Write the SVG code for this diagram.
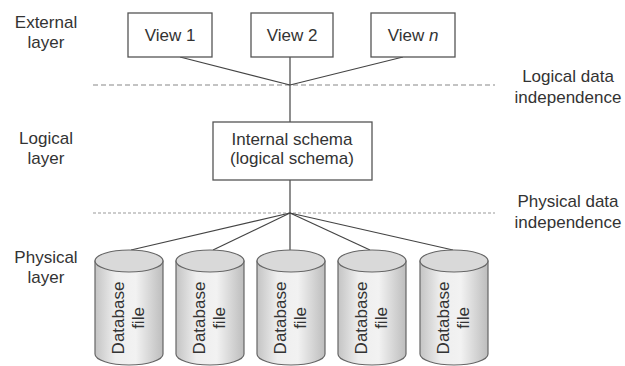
<svg xmlns="http://www.w3.org/2000/svg" width="625" height="366" viewBox="0 0 625 366">
<defs>
<linearGradient id="body" x1="0" y1="0" x2="1" y2="0">
<stop offset="0" stop-color="#c4c4c4"/>
<stop offset="0.3" stop-color="#eeeeee"/>
<stop offset="0.6" stop-color="#f2f2f2"/>
<stop offset="1" stop-color="#bdbdbd"/>
</linearGradient>
</defs>
<style>
text{font-family:"Liberation Sans",Arial,sans-serif;font-size:17px;fill:#333;text-anchor:middle}
.box{fill:#fff;stroke:#555;stroke-width:1.3}
.conn{stroke:#444;stroke-width:1.2;fill:none}
.dash{stroke:#888;stroke-width:1.2;stroke-dasharray:5 3;fill:none}
.dash2{stroke:#999;stroke-width:1.2;stroke-dasharray:3 2;fill:none}
.cyl{fill:url(#body);stroke:#666;stroke-width:1.2}
.cyltop{fill:#d9d9d9;stroke:#666;stroke-width:1.2}
</style>
<rect width="625" height="366" fill="#fff"/>
<g id="labels">
<text x="46" y="28">External</text>
<text x="46" y="48">layer</text>
<text x="46" y="144">Logical</text>
<text x="46" y="164">layer</text>
<text x="46" y="263">Physical</text>
<text x="46" y="283">layer</text>
<text x="568" y="82">Logical data</text>
<text x="568" y="103">independence</text>
<text x="568" y="207">Physical data</text>
<text x="568" y="228">independence</text>
</g>
<g id="boundaries">
<line class="dash" x1="93" y1="85" x2="495" y2="85"/>
<line class="dash2" x1="93" y1="213" x2="495" y2="213"/>
</g>
<g id="connectors">
<line class="conn" x1="180" y1="57" x2="290" y2="85"/>
<line class="conn" x1="403" y1="57" x2="290" y2="85"/>
<line class="conn" x1="290" y1="57" x2="290" y2="122"/>
<line class="conn" x1="290" y1="180" x2="290" y2="250"/>
<line class="conn" x1="290" y1="213" x2="131" y2="250"/>
<line class="conn" x1="290" y1="213" x2="213" y2="250"/>
<line class="conn" x1="290" y1="213" x2="370" y2="250"/>
<line class="conn" x1="290" y1="213" x2="453" y2="250"/>
</g>
<g id="view1"><rect class="box" x="128" y="13" width="84" height="44"/><text x="170" y="41">View 1</text></g>
<g id="view2"><rect class="box" x="251" y="13" width="82" height="44"/><text x="292" y="41">View 2</text></g>
<g id="viewn"><rect class="box" x="371" y="13" width="84" height="44"/><text x="413" y="41">View <tspan font-style="italic">n</tspan></text></g>
<g id="internal"><rect class="box" x="213" y="122" width="159" height="58"/><text x="292" y="145">Internal schema</text><text x="292" y="164">(logical schema)</text></g>
<g id="db1"><path class="cyl" d="M95,261 V354 A34,11 0 0 0 163,354 V261 Z"/><ellipse class="cyltop" cx="129" cy="261" rx="34" ry="11"/><text transform="translate(118,318) rotate(-90)" dy="0.35em">Database</text><text transform="translate(138,318) rotate(-90)" dy="0.35em">file</text></g>
<g id="db2"><path class="cyl" d="M176,261 V354 A34,11 0 0 0 244,354 V261 Z"/><ellipse class="cyltop" cx="210" cy="261" rx="34" ry="11"/><text transform="translate(199,318) rotate(-90)" dy="0.35em">Database</text><text transform="translate(219,318) rotate(-90)" dy="0.35em">file</text></g>
<g id="db3"><path class="cyl" d="M257,261 V354 A34,11 0 0 0 325,354 V261 Z"/><ellipse class="cyltop" cx="291" cy="261" rx="34" ry="11"/><text transform="translate(280,318) rotate(-90)" dy="0.35em">Database</text><text transform="translate(300,318) rotate(-90)" dy="0.35em">file</text></g>
<g id="db4"><path class="cyl" d="M338,261 V354 A34,11 0 0 0 406,354 V261 Z"/><ellipse class="cyltop" cx="372" cy="261" rx="34" ry="11"/><text transform="translate(361,318) rotate(-90)" dy="0.35em">Database</text><text transform="translate(381,318) rotate(-90)" dy="0.35em">file</text></g>
<g id="db5"><path class="cyl" d="M420,261 V354 A34,11 0 0 0 488,354 V261 Z"/><ellipse class="cyltop" cx="454" cy="261" rx="34" ry="11"/><text transform="translate(443,318) rotate(-90)" dy="0.35em">Database</text><text transform="translate(463,318) rotate(-90)" dy="0.35em">file</text></g>
</svg>
